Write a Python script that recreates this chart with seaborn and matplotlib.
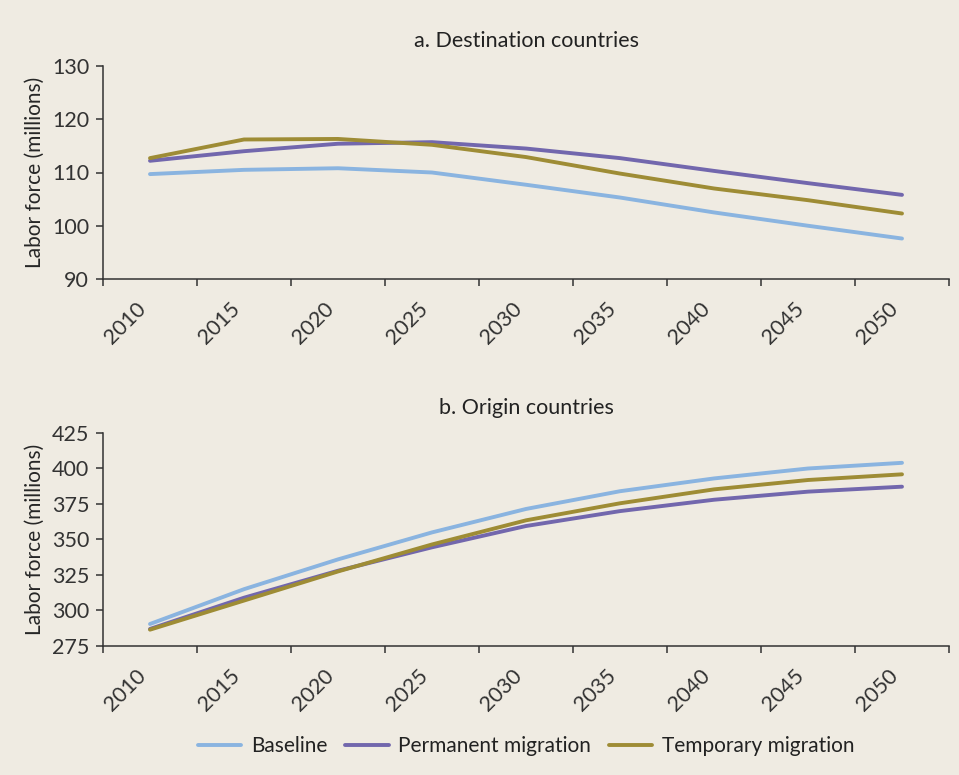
import numpy as np
import pandas as pd
import matplotlib.pyplot as plt
import seaborn as sns

years = [2010, 2015, 2020, 2025, 2030, 2035, 2040, 2045, 2050]
scenarios = ["Baseline", "Permanent migration", "Temporary migration"]

# a. Destination countries (labor force, millions)
dest_baseline = [109.7, 110.5, 110.8, 110.0, 107.7, 105.3, 102.5, 100.0, 97.6]
dest_permanent = [112.2, 114.0, 115.4, 115.7, 114.5, 112.7, 110.3, 108.0, 105.8]
dest_temporary = [112.7, 116.2, 116.3, 115.2, 112.9, 109.8, 107.0, 104.8, 102.3]

# b. Origin countries (labor force, millions)
orig_baseline = [290.5, 315.0, 336.0, 355.0, 371.5, 384.0, 393.0, 400.0, 404.0]
orig_permanent = [287.0, 309.0, 328.0, 344.5, 359.5, 370.0, 378.0, 383.7, 387.2]
orig_temporary = [286.5, 307.0, 327.5, 346.5, 363.5, 375.5, 385.3, 391.9, 395.9]

colors = {"Baseline": "#8AB4E0", "Permanent migration": "#7267AD",
          "Temporary migration": "#9E8C35"}
bg = "#EFEBE2"


def long_frame(base, perm, temp):
    rows = []
    for name, vals in zip(scenarios, [base, perm, temp]):
        for i, (yr, v) in enumerate(zip(years, vals)):
            rows.append({"pos": i, "year": yr, "value": v, "scenario": name})
    return pd.DataFrame(rows)


df_a = long_frame(dest_baseline, dest_permanent, dest_temporary)
df_b = long_frame(orig_baseline, orig_permanent, orig_temporary)

sns.set_theme(style="ticks")
plt.rcParams["font.family"] = ["Lato", "DejaVu Sans"]
plt.rcParams["axes.edgecolor"] = "#333333"
plt.rcParams["axes.linewidth"] = 1.1
plt.rcParams["text.color"] = "#222222"
plt.rcParams["xtick.color"] = "#333333"
plt.rcParams["ytick.color"] = "#333333"

fig = plt.figure(figsize=(9.59, 7.75), dpi=100, facecolor=bg)
W, H = 959, 775
ax_a = fig.add_axes([103 / W, 1 - 279 / H, 846 / W, 213 / H])
ax_b = fig.add_axes([103 / W, 1 - 646 / H, 846 / W, 213 / H])


def style_axis(ax, df, title, yticks):
    ax.set_facecolor(bg)
    sns.lineplot(data=df, x="pos", y="value", hue="scenario", hue_order=scenarios,
                 palette=colors, linewidth=2.8, ax=ax, legend=False)
    ax.set_xlim(-0.5, 8.5)
    ax.set_ylim(yticks[0], yticks[-1])
    ax.set_yticks(yticks)
    ax.set_yticklabels([str(t) for t in yticks], fontsize=15.5)
    ax.set_xticks(np.arange(-0.5, 9, 1))
    ax.set_xticklabels([])
    ax.set_xticks(range(len(years)), minor=True)
    ax.set_xticklabels([str(y) for y in years], minor=True, rotation=45,
                       ha="right", fontsize=15.5)
    ax.tick_params(axis="x", which="major", length=5, width=1.1, direction="out")
    ax.tick_params(axis="x", which="minor", length=0, pad=14)
    ax.tick_params(axis="y", length=5, width=1.1, pad=5)
    ax.set_xlabel("")
    ax.set_ylabel("Labor force (millions)", fontsize=15, labelpad=5)
    ax.set_title(title, fontsize=15.5, pad=14)
    sns.despine(ax=ax)


style_axis(ax_a, df_a, "a. Destination countries", [90, 100, 110, 120, 130])
style_axis(ax_b, df_b, "b. Origin countries", [275, 300, 325, 350, 375, 400, 425])

handles = [plt.Line2D([], [], color=colors[s], lw=2.8) for s in scenarios]
fig.legend(handles, scenarios, loc="center", bbox_to_anchor=(526 / W, 1 - 746 / H),
           ncol=3, frameon=False, fontsize=15, handlelength=2.1,
           handletextpad=0.45, columnspacing=0.85)

fig.savefig("out.png", dpi=100, facecolor=bg)
